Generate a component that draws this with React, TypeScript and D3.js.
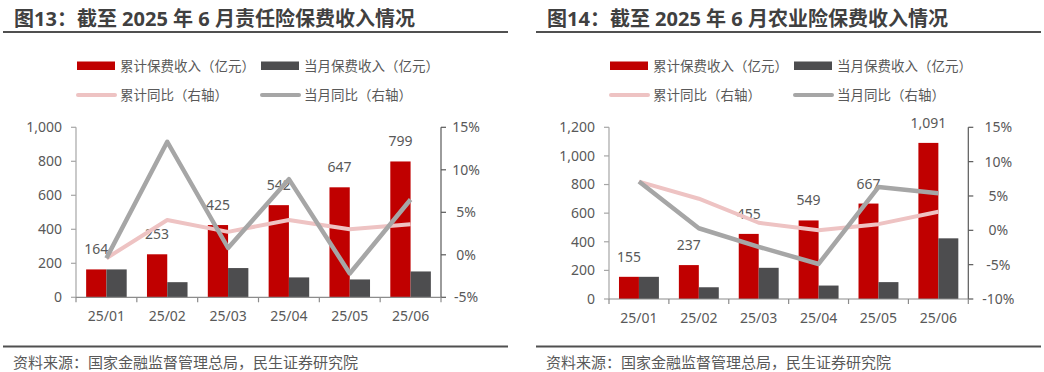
import React from 'react';
import * as d3 from 'd3';

// shared categories
const months = ['25/01', '25/02', '25/03', '25/04', '25/05', '25/06'];

// 图13 责任险
const liabCum = [164, 253, 425, 542, 647, 799];
const liabMonth = [164, 89, 172, 117, 105, 152];
const liabCumYoy = [-0.4, 4.1, 2.7, 4.1, 3.0, 3.6];
const liabMonthYoy = [-0.4, 13.3, 0.8, 8.9, -2.2, 6.5];
const liabTicks = [0, 200, 400, 600, 800, 1000];
const liabPctTicks = [-5, 0, 5, 10, 15];

// 图14 农业险
const agriCum = [155, 237, 455, 549, 667, 1091];
const agriMonth = [155, 82, 218, 94, 118, 424];
const agriCumYoy = [7.1, 4.6, 1.1, 0.0, 0.9, 2.7];
const agriMonthYoy = [7.1, 0.3, -2.4, -4.9, 6.3, 5.4];
const agriTicks = [0, 200, 400, 600, 800, 1000, 1200];
const agriPctTicks = [-10, -5, 0, 5, 10, 15];

const legendNames = ['累计保费收入（亿元）', '当月保费收入（亿元）', '累计同比（右轴）', '当月同比（右轴）'];

const RED = '#C00000';
const DARK = '#4D4D4F';
const PINK = '#EEC3C3';
const GRAY = '#A6A6A6';
const TEXT = '#595959';
const FONT = "'Noto Sans', 'Noto Sans CJK SC', sans-serif";

type ChartProps = {
  title: string;
  cum: number[];
  month: number[];
  cumYoy: number[];
  monthYoy: number[];
  ticks: number[];
  pctTicks: number[];
  x0: number;
  x1: number;
  yTop: number;
  yBottom: number;
  frameLeft: number;
  frameRight: number;
  pctOffset: number;
};

const Chart = (p: ChartProps) => {
  const x = d3.scaleBand<string>().domain(months).range([p.x0, p.x1]).padding(0);
  const xs = d3
    .scaleBand<string>()
    .domain(['cum', 'month'])
    .range([0, x.step()])
    .paddingInner(0)
    .paddingOuter(0.5);
  const y = d3
    .scaleLinear()
    .domain([0, p.ticks[p.ticks.length - 1]])
    .range([p.yBottom, p.yTop]);
  const y2 = d3
    .scaleLinear()
    .domain([p.pctTicks[0], p.pctTicks[p.pctTicks.length - 1]])
    .range([p.yBottom, p.yTop]);
  const cx = (m: string) => (x(m) as number) + x.step() / 2;
  const line = d3
    .line<number>()
    .x((_, i) => cx(months[i]))
    .y((d) => y2(d));
  const fmt = d3.format(',');
  const bounds = d3.range(months.length + 1).map((i) => p.x0 + i * x.step());
  const lx = p.x0 + 1;

  return (
    <g fontFamily={FONT}>
      <text x={p.frameLeft + 11} y={26} fontSize={20} fontWeight="bold" fill="#404040">
        {p.title}
      </text>
      <line x1={p.frameLeft} x2={p.frameRight} y1={32} y2={32} stroke="#505050" strokeWidth={2} />
      <line x1={p.frameLeft} x2={p.frameRight} y1={346.5} y2={346.5} stroke="#505050" strokeWidth={2} />
      <text x={p.frameLeft + 10} y={368} fontSize={15} fill={TEXT}>
        资料来源：国家金融监督管理总局，民生证券研究院
      </text>

      {/* legend */}
      <rect x={lx} y={61.5} width={38} height={8.5} fill={RED} />
      <text x={lx + 43} y={66} dy="0.35em" fontSize={13.5} fill={TEXT}>{legendNames[0]}</text>
      <rect x={lx + 184} y={61.5} width={38} height={8.5} fill={DARK} />
      <text x={lx + 227} y={66} dy="0.35em" fontSize={13.5} fill={TEXT}>{legendNames[1]}</text>
      <line x1={lx + 1} x2={lx + 38} y1={95} y2={95} stroke={PINK} strokeWidth={4} strokeLinecap="round" />
      <text x={lx + 43} y={95} dy="0.35em" fontSize={13.5} fill={TEXT}>{legendNames[2]}</text>
      <line x1={lx + 185} x2={lx + 222} y1={95} y2={95} stroke={GRAY} strokeWidth={4} strokeLinecap="round" />
      <text x={lx + 227} y={95} dy="0.35em" fontSize={13.5} fill={TEXT}>{legendNames[3]}</text>

      {/* left axis */}
      <line x1={p.x0} x2={p.x0} y1={p.yTop} y2={p.yBottom} stroke={GRAY} strokeWidth={1.2} />
      {p.ticks.map((t) => (
        <g key={'l' + t}>
          <line x1={p.x0 - 5} x2={p.x0} y1={y(t)} y2={y(t)} stroke={GRAY} strokeWidth={1.2} />
          <text x={p.x0 - 14} y={y(t)} dy="0.35em" textAnchor="end" fontSize={14} fill={TEXT}>
            {fmt(t)}
          </text>
        </g>
      ))}

      {/* right axis */}
      <line x1={p.x1} x2={p.x1} y1={p.yTop} y2={p.yBottom} stroke={TEXT} strokeWidth={1.2} />
      {p.pctTicks.map((t) => (
        <g key={'r' + t}>
          <line x1={p.x1} x2={p.x1 + 5} y1={y2(t)} y2={y2(t)} stroke={TEXT} strokeWidth={1.2} />
          <text x={p.x1 + p.pctOffset} y={y2(t)} dy="0.35em" textAnchor="middle" fontSize={14} fill={TEXT}>
            {t}%
          </text>
        </g>
      ))}

      {/* bars */}
      {months.map((m, i) => (
        <g key={'b' + m}>
          <rect
            x={(x(m) as number) + (xs('cum') as number)}
            y={y(p.cum[i])}
            width={xs.bandwidth()}
            height={p.yBottom - y(p.cum[i])}
            fill={RED}
          />
          <rect
            x={(x(m) as number) + (xs('month') as number)}
            y={y(p.month[i])}
            width={xs.bandwidth()}
            height={p.yBottom - y(p.month[i])}
            fill={DARK}
          />
        </g>
      ))}

      {/* category axis */}
      <line x1={p.x0} x2={p.x1} y1={p.yBottom} y2={p.yBottom} stroke="#8C8C8C" strokeWidth={1.2} />
      {bounds.map((b, i) => (
        <line key={'t' + i} x1={b} x2={b} y1={p.yBottom} y2={p.yBottom + 5} stroke="#8C8C8C" strokeWidth={1.2} />
      ))}
      {months.map((m) => (
        <text key={'c' + m} x={cx(m)} y={p.yBottom + 24} textAnchor="middle" fontSize={14} fill={TEXT}>
          {m}
        </text>
      ))}

      {/* data labels */}
      {months.map((m, i) => (
        <text
          key={'v' + m}
          x={(x(m) as number) + (xs('cum') as number) + xs.bandwidth() / 2}
          y={y(p.cum[i]) - 15}
          textAnchor="middle"
          fontSize={14}
          fill={TEXT}
        >
          {fmt(p.cum[i])}
        </text>
      ))}

      {/* yoy lines */}
      <path d={line(p.cumYoy) || ''} fill="none" stroke={PINK} strokeWidth={4} strokeLinejoin="round" />
      <path d={line(p.monthYoy) || ''} fill="none" stroke={GRAY} strokeWidth={4.5} strokeLinejoin="round" />
    </g>
  );
};

export default function App() {
  return (
    <svg
      width={1044}
      height={372}
      style={{ position: 'absolute', left: 0, top: 0, background: '#fff' }}
    >
      <rect width={1044} height={372} fill="#fff" />
      <Chart
        title="图13：截至 2025 年 6 月责任险保费收入情况"
        cum={liabCum}
        month={liabMonth}
        cumYoy={liabCumYoy}
        monthYoy={liabMonthYoy}
        ticks={liabTicks}
        pctTicks={liabPctTicks}
        x0={76}
        x1={441}
        yTop={127.3}
        yBottom={297.3}
        frameLeft={3}
        frameRight={508}
        pctOffset={25}
      />
      <Chart
        title="图14：截至 2025 年 6 月农业险保费收入情况"
        cum={agriCum}
        month={agriMonth}
        cumYoy={agriCumYoy}
        monthYoy={agriMonthYoy}
        ticks={agriTicks}
        pctTicks={agriPctTicks}
        x0={609}
        x1={968.3}
        yTop={127.3}
        yBottom={299}
        frameLeft={536}
        frameRight={1041}
        pctOffset={30}
      />
    </svg>
  );
}
